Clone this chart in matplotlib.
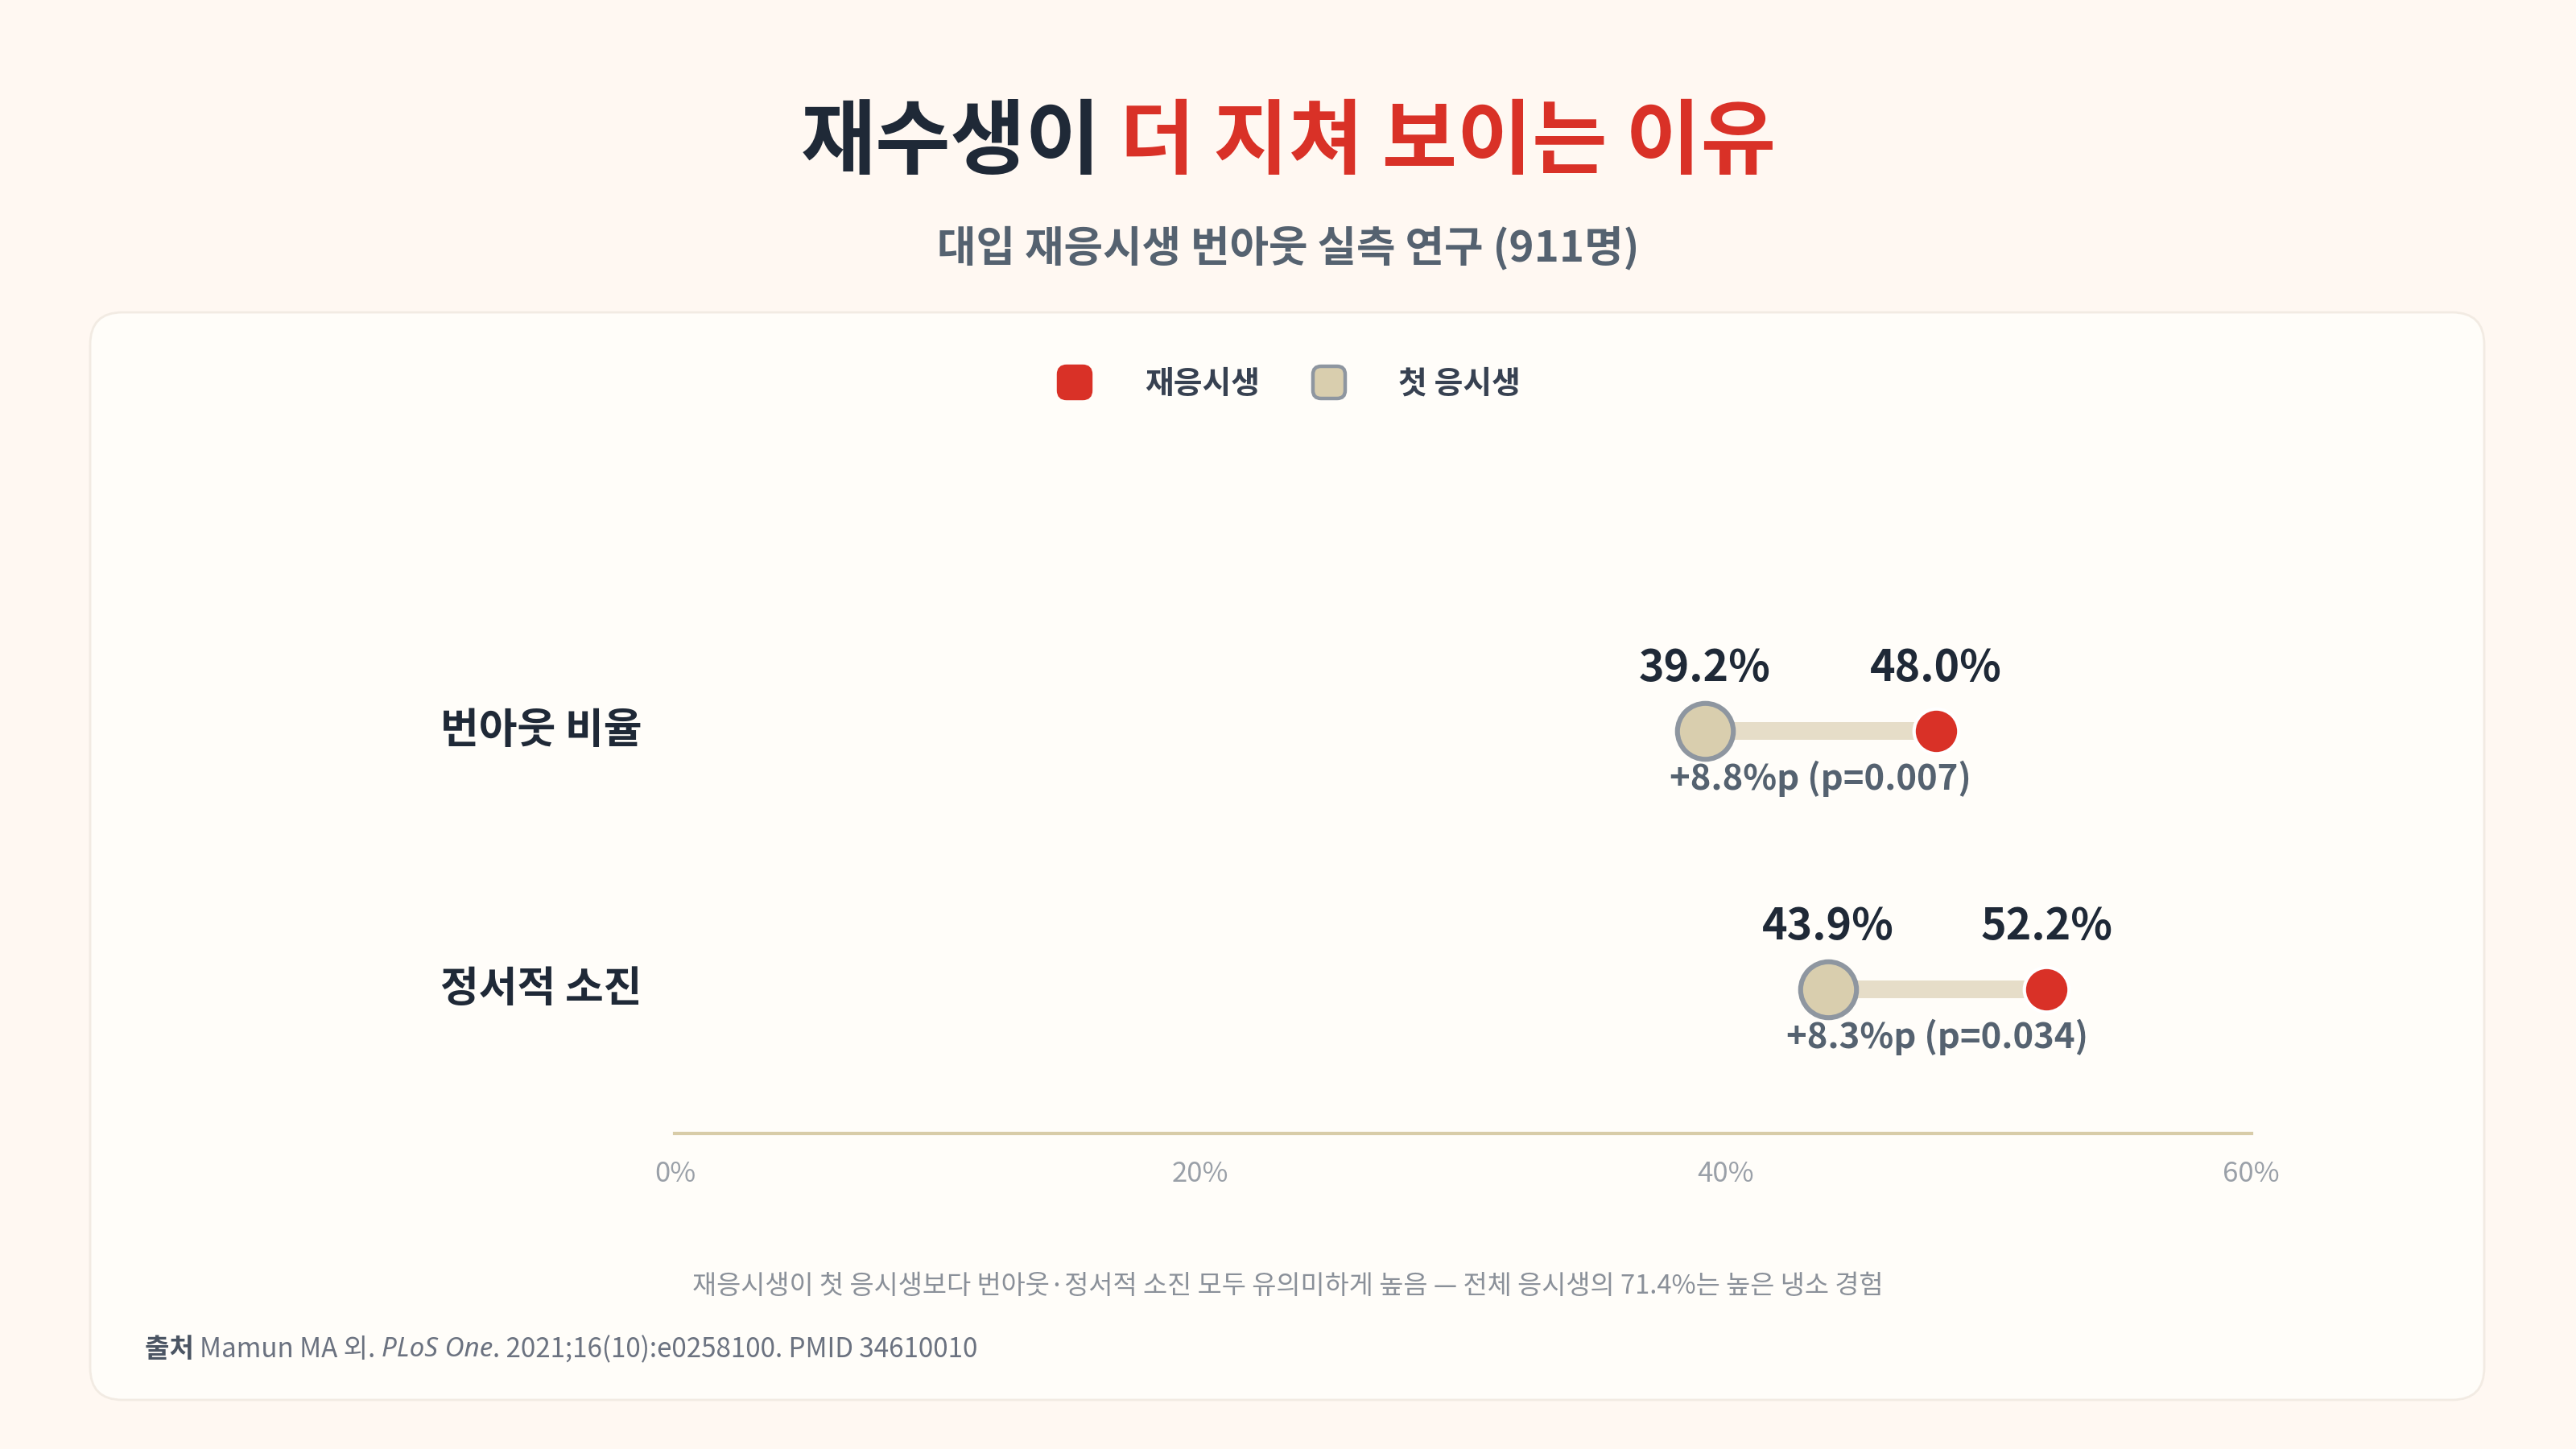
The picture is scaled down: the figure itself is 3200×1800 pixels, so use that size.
import matplotlib.pyplot as plt
from matplotlib.patches import FancyBboxPatch
from matplotlib.transforms import blended_transform_factory

plt.rcParams['font.family'] = ['Noto Sans CJK KR', 'DejaVu Sans']

# data
categories = ['번아웃 비율', '정서적 소진']
first_takers = [39.2, 43.9]
repeat_takers = [48.0, 52.2]
p_values = ['0.007', '0.034']
x_ticks = [0, 20, 40, 60]

BG = '#FFF8F2'
CARD = '#FFFDF9'
RED = '#D93127'
BEIGE = '#D9CEAE'
BAR = '#E6DDC8'
DARK = '#1F2937'
SLATE = '#556270'
GREY = '#8E96A0'

fig = plt.figure(figsize=(16, 9), dpi=200, facecolor=BG)
r = fig.canvas.get_renderer()

# card
card = FancyBboxPatch((0.56, 0.305), 14.87, 6.755,
                      boxstyle='round,pad=0,rounding_size=0.2',
                      transform=fig.dpi_scale_trans,
                      facecolor=CARD, edgecolor='#F2EBE3', linewidth=1, zorder=0)
fig.add_artist(card)

# title in two colours, centred together
t1 = fig.text(0, 0.901, '재수생이', fontsize=36.5, weight='bold', color=DARK, va='center')
t2 = fig.text(0, 0.901, ' 더 지쳐 보이는 이유', fontsize=36.5, weight='bold', color=RED, va='center')
w1 = t1.get_window_extent(r).width
w2 = t2.get_window_extent(r).width
x0 = (fig.bbox.width - (w1 + w2)) / 2
t1.set_x(x0 / fig.bbox.width)
t2.set_x((x0 + w1) / fig.bbox.width)

fig.text(0.5, 0.829, '대입 재응시생 번아웃 실측 연구 (911명)', fontsize=19,
         weight='bold', color=SLATE, ha='center', va='center')

# legend
for cx, fc, ec in [(6.675, RED, RED), (8.255, BEIGE, GREY)]:
    sq = FancyBboxPatch((cx - 0.1, 6.625 - 0.1), 0.2, 0.2,
                        boxstyle='round,pad=0,rounding_size=0.05',
                        transform=fig.dpi_scale_trans,
                        facecolor=fc, edgecolor=ec, linewidth=1.6, zorder=2)
    fig.add_artist(sq)
fig.text(1494 / 3200, 0.735, '재응시생', fontsize=14, weight='bold', color='#374151',
         ha='center', va='center')
fig.text(1813 / 3200, 0.735, '첫 응시생', fontsize=14, weight='bold', color='#374151',
         ha='center', va='center')

# dumbbell axes
ax = fig.add_axes([0.262, 0.2178, 0.874 - 0.262, 0.62 - 0.2178])
ax.set_facecolor('none')
ax.set_xlim(0, 60)
ax.set_ylim(1.558, -0.698)
for s in ['top', 'right', 'left']:
    ax.spines[s].set_visible(False)
ax.spines['bottom'].set_color('#D8CCA8')
ax.spines['bottom'].set_linewidth(1.5)
ax.set_yticks([])
ax.set_xticks(x_ticks)
ax.set_xticklabels([f'{v}%' for v in x_ticks])
ax.tick_params(axis='x', length=0, pad=12, labelsize=12.5, labelcolor='#9AA0A8')

label_tr = blended_transform_factory(fig.transFigure, ax.transData)
for i, (cat, f, rp, p) in enumerate(zip(categories, first_takers, repeat_takers, p_values)):
    ax.plot([f, rp], [i, i], color=BAR, lw=7.9, solid_capstyle='butt', zorder=1)
    ax.scatter([f], [i], s=25 ** 2, color=BEIGE, edgecolors=GREY, linewidths=2.2, zorder=3)
    ax.scatter([rp], [i], s=20 ** 2, color=RED, edgecolors='white', linewidths=1.5, zorder=3)
    for v in (f, rp):
        ax.annotate(f'{v:.1f}%', (v, i), xytext=(0, 28), textcoords='offset points',
                    ha='center', va='center', fontsize=19.3, weight='bold', color=DARK)
    ax.annotate(f'+{rp - f:.1f}%p (p={p})', ((f + rp) / 2, i), xytext=(0, -21.5),
                textcoords='offset points', ha='center', va='center',
                fontsize=15.7, weight='bold', color=SLATE)
    ax.text(0.171, i, cat, transform=label_tr, ha='left', va='center',
            fontsize=18.7, weight='bold', color=DARK)

# footnote
fig.text(0.5, 0.1125,
         '재응시생이 첫 응시생보다 번아웃·정서적 소진 모두 유의미하게 높음 — 전체 응시생의 71.4%는 높은 냉소 경험',
         fontsize=11.8, color='#8A9099', ha='center', va='center')

# source line, pieces placed one after another
pieces = [
    ('출처 ', dict(weight='bold', color='#4B5563')),
    ('Mamun MA 외. ', dict(color='#6B7280')),
    ('PLoS One', dict(color='#6B7280', style='italic', family=['Noto Sans', 'DejaVu Sans'])),
    ('. 2021;16(10):e0258100. PMID 34610010', dict(color='#6B7280')),
]
x = 180
for txt, kw in pieces:
    t = fig.text(x / fig.bbox.width, 0.0685, txt, fontsize=11.95, va='center', ha='left', **kw)
    x += t.get_window_extent(r).width

fig.savefig('out.png', dpi=200, facecolor=BG)
